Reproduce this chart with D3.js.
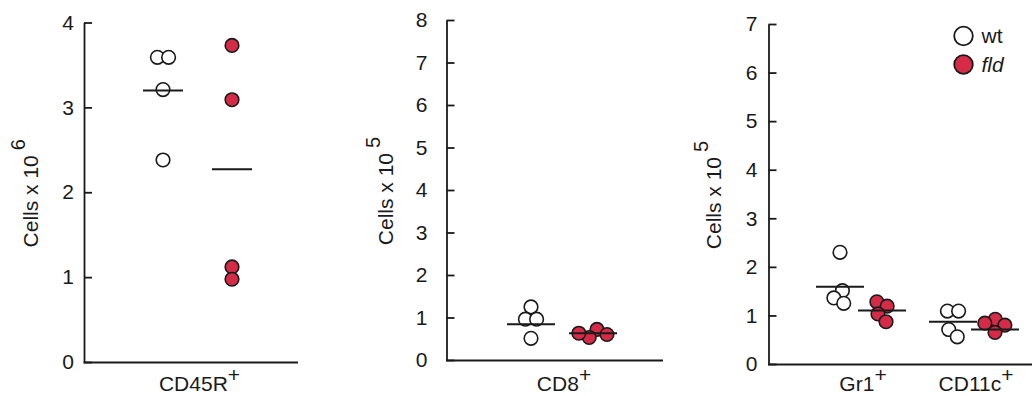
<!DOCTYPE html>
<html>
<head>
<meta charset="utf-8">
<script src="https://cdn.jsdelivr.net/npm/d3@7"></script>
<style>
  body { margin: 0; background: #fff; }
  svg { display: block; font-family: "Liberation Sans", Arial, sans-serif; }
</style>
</head>
<body>
<script>
// three dot plots, wt vs fld, mean as a short bar

const genotypes = ["wt", "fld"]

// panel 1 : CD45R+ (x 10^6)
const cats1 = ["CD45R"]
const cd45rWt = [3.59, 3.59, 3.21, 2.38]
const cd45rFld = [3.73, 3.09, 1.12, 0.975]
const cd45rMeans = [3.20, 2.27]
const yTicks1 = [0, 1, 2, 3, 4]

// panel 2 : CD8+ (x 10^5)
const cats2 = ["CD8"]
const cd8Wt = [1.25, 0.96, 0.96, 0.51]
const cd8Fld = [0.72, 0.53, 0.63, 0.60]
const cd8Means = [0.84, 0.63]
const yTicks2 = [0, 1, 2, 3, 4, 5, 6, 7, 8]

// panel 3 : Gr1+ and CD11c+ (x 10^5)
const cats3 = ["Gr1", "CD11c"]
const gr1Wt = [2.30, 1.51, 1.36, 1.25]
const gr1Fld = [1.28, 1.19, 1.03, 0.87]
const gr1Means = [1.59, 1.10]
const cd11cWt = [1.09, 1.09, 0.71, 0.56]
const cd11cFld = [0.92, 0.84, 0.80, 0.65]
const cd11cMeans = [0.87, 0.71]
const yTicks3 = [0, 1, 2, 3, 4, 5, 6, 7]

const exponents = ["6", "5", "5"]

const fldColor = "#d62b46"
const ink = "#1a1a1a"

let svg = d3.select("body")
    .append("svg")
    .attr("width", 1032)
    .attr("height", 396)

// layout per panel
let panels = [
    {cats: cats1, values: [[cd45rWt, cd45rFld]], means: [cd45rMeans], ticks: yTicks1, exp: exponents[0],
     left: 84, right: 298, top: 22.5, bottom: 362, catRange: [197.5, 197.5], dodge: 34.5,
     pad: 10, titleX: 38, barHalf: 20},
    {cats: cats2, values: [[cd8Wt, cd8Fld]], means: [cd8Means], ticks: yTicks2, exp: exponents[1],
     left: 446.5, right: 663, top: 20, bottom: 360, catRange: [562, 562], dodge: 31,
     pad: 19, titleX: 393, barHalf: 24},
    {cats: cats3, values: [[gr1Wt, gr1Fld], [cd11cWt, cd11cFld]], means: [gr1Means, cd11cMeans], ticks: yTicks3, exp: exponents[2],
     left: 768.5, right: 1032, top: 24, bottom: 364, catRange: [861, 974], dodge: 21,
     pad: 11, titleX: 721, barHalf: 24}
]

panels.forEach(p => {
    let y = d3.scaleLinear().domain([0, d3.max(p.ticks)]).range([p.bottom, p.top])
    let x = d3.scalePoint().domain(p.cats).range(p.catRange)
    let gx = d3.scalePoint().domain(genotypes).range([-p.dodge, p.dodge])

    let axis = svg.append("g")
        .attr("transform", `translate(${p.left},0)`)
        .call(d3.axisLeft(y).tickValues(p.ticks).tickFormat(d3.format("d"))
            .tickSize(-8).tickSizeOuter(0).tickPadding(p.pad))
    axis.selectAll("path, line").attr("stroke", ink).attr("stroke-width", 1.8)
    axis.selectAll("text").attr("font-size", 21).attr("fill", ink).attr("font-family", null)

    // x axis line
    svg.append("line")
        .attr("x1", p.left - 0.5).attr("x2", p.right)
        .attr("y1", p.bottom + 0.5).attr("y2", p.bottom + 0.5)
        .attr("stroke", ink).attr("stroke-width", 1.8)

    // y title
    let title = svg.append("text")
        .attr("transform", `translate(${p.titleX},${(p.top + p.bottom) / 2 + 1}) rotate(-90)`)
        .attr("text-anchor", "middle")
        .attr("font-size", 21)
        .attr("fill", ink)
    title.append("tspan").text("Cells x 10")
    title.append("tspan").attr("dx", 5).attr("dy", -13).attr("font-size", 20).text(p.exp)

    // category labels
    p.cats.forEach(c => {
        let t = svg.append("text")
            .attr("x", x(c) + 2)
            .attr("y", 391)
            .attr("text-anchor", "middle")
            .attr("font-size", 21)
            .attr("fill", ink)
        t.append("tspan").text(c)
        t.append("tspan").attr("dy", -9).attr("font-size", 21).text("+")
    })

    p.cats.forEach((c, ci) => {
        genotypes.forEach((gt, gi) => {
            let vals = p.values[ci][gi]
            let cx = x(c) + gx(gt)
            let nodes = vals.map((v, i) => ({v: v, x: cx + (i - (vals.length - 1) / 2) * 0.1, fy: y(v)}))
            let sim = d3.forceSimulation(nodes)
                .force("x", d3.forceX(cx).strength(0.08))
                .force("collide", d3.forceCollide(5.6).iterations(3))
                .stop()
            for (let k = 0; k < 300; k++) sim.tick()

            svg.append("g").selectAll("circle")
                .data(nodes)
                .enter()
                .append("circle")
                .attr("cx", d => d.x)
                .attr("cy", d => y(d.v))
                .attr("r", 6.8)
                .attr("fill", gt == "wt" ? "#fff" : fldColor)
                .attr("stroke", ink)
                .attr("stroke-width", 1.6)

            svg.append("line")
                .attr("x1", cx - p.barHalf).attr("x2", cx + p.barHalf)
                .attr("y1", y(p.means[ci][gi])).attr("y2", y(p.means[ci][gi]))
                .attr("stroke", ink).attr("stroke-width", 2)
        })
    })
})

// legend
let legend = svg.append("g").attr("transform", "translate(963.5,36)")
genotypes.forEach((gt, i) => {
    legend.append("circle")
        .attr("cx", 0).attr("cy", i * 28.5)
        .attr("r", 9.3)
        .attr("fill", gt == "wt" ? "#fff" : fldColor)
        .attr("stroke", ink).attr("stroke-width", 1.8)
    legend.append("text")
        .attr("x", 18).attr("y", i * 28.5 + 7)
        .attr("font-size", 21)
        .attr("font-style", gt == "fld" ? "italic" : null)
        .attr("fill", ink)
        .text(gt)
})
</script>
</body>
</html>
